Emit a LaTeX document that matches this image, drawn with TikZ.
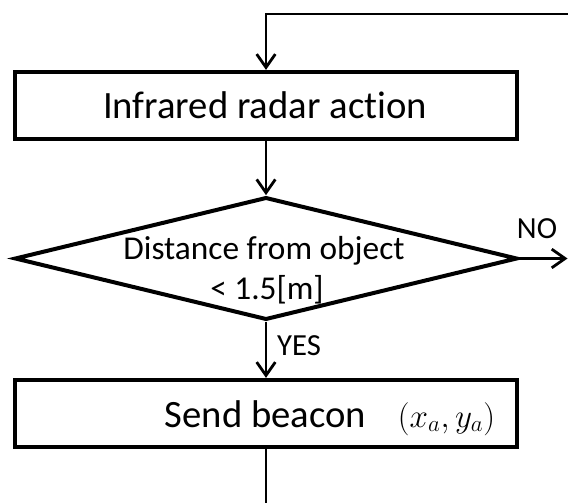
\documentclass[tikz,border=0pt]{standalone}
\usepackage{fontspec}
\setmainfont[Ligatures=NoCommon]{Carlito}
\usetikzlibrary{arrows.meta,shapes.geometric}
\begin{document}
\begin{tikzpicture}[x=0.75pt,y=-0.75pt,
  boxnode/.style={draw, line width=3.2pt, minimum width=376.5pt, minimum height=50.25pt, inner sep=0pt},
  decnode/.style={draw, diamond, line width=3pt, minimum width=377pt, minimum height=92pt, inner sep=0pt},
  conn/.style={line width=2.1pt, -{Straight Barb[length=10pt,width=14pt,line width=2.1pt]}},
  plainconn/.style={line width=2.1pt},
  bigtxt/.style={anchor=base, inner sep=0pt, font=\fontsize{29}{34}\selectfont},
  midtxt/.style={anchor=base, inner sep=0pt, font=\fontsize{25}{30}\selectfont},
  lbltxt/.style={anchor=base, inner sep=0pt, font=\fontsize{23}{28}\selectfont}]
\useasboundingbox[fill=white] (0,0) rectangle (568,503);
% nodes
\node[boxnode] (b1) at (266,105.5) {};
\node[bigtxt] (t1) at (265,118) {Infrared radar action};
\node[decnode] (d) at (266,258.5) {};
\node[midtxt] (d1) at (264,259) {Distance from object};
\node[midtxt] (d2) at (267,299) {< 1.5[m]};
\node[boxnode] (b2) at (266,413.5) {};
\node[bigtxt] (t2) at (265.5,427) {Send beacon};
\node[bigtxt] (m2) at (446.5,427) {\fontsize{24}{30}\selectfont$(x_a,y_a)$};
\node[lbltxt] (no) at (537,238) {NO};
\node[lbltxt] (yes) at (299,355) {YES};
% coordinates
\coordinate (tr) at (568,14);
\coordinate (noend) at (567.5,258.5);
\coordinate (bot) at (266,503);
% connectors
\draw[conn] (tr) -| (b1.north);
\draw[conn] (b1.south) -- (d.north);
\draw[conn] (d.east) -- (noend);
\draw[conn] (d.south) -- (b2.north);
\draw[plainconn] (b2.south) -- (bot);
\end{tikzpicture}
\end{document}
